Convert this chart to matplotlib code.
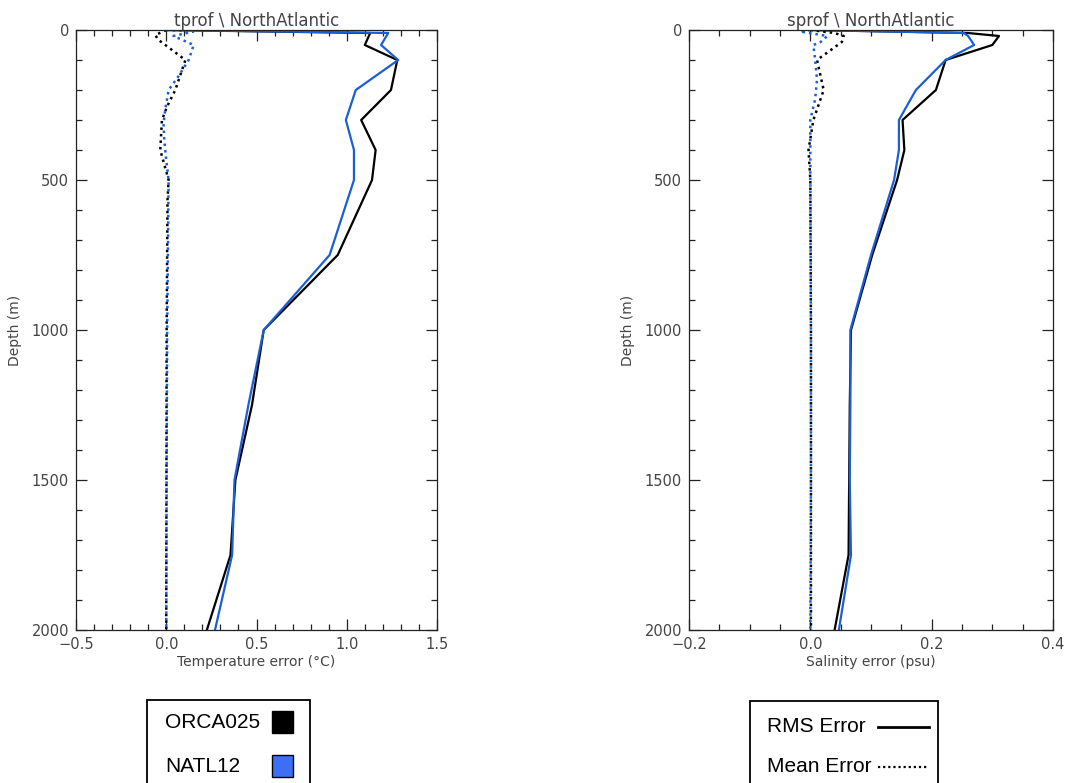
import matplotlib
matplotlib.use("Agg")
import matplotlib.pyplot as plt
from matplotlib.patches import Rectangle
from matplotlib.lines import Line2D
from matplotlib.ticker import MultipleLocator

# ---------------- data ----------------
# Temperature RMS error
t_rms_depth = [0, 10, 50, 100, 200, 300, 400, 500, 750, 1000, 1250, 1500, 1750, 2000]
orca_t_rms = [0.0, 1.13, 1.10, 1.28, 1.245, 1.08, 1.16, 1.14, 0.95, 0.54, 0.475, 0.383, 0.356, 0.225]
natl_t_rms = [0.0, 1.23, 1.19, 1.285, 1.05, 0.995, 1.04, 1.04, 0.905, 0.54, 0.455, 0.378, 0.365, 0.27]

# Temperature mean error
orca_t_mean_depth = [0, 17, 33, 100, 200, 256, 300, 400, 500, 567, 1000, 1500, 2000]
orca_t_mean = [0.0, -0.061, -0.043, 0.106, 0.05, 0.004, -0.024, -0.033, 0.013, 0.007, 0.002, 0.001, 0.0]
natl_t_mean_depth = [0, 5, 20, 50, 100, 153, 200, 267, 311, 367, 433, 500, 1000, 1500, 2000]
natl_t_mean = [0.0, 0.15, 0.04, 0.152, 0.124, 0.069, 0.013, -0.006, -0.015, -0.011, 0.0, 0.013, 0.005, 0.002, 0.0]

# Salinity RMS error
s_rms_depth = [0, 10, 20, 50, 100, 200, 300, 400, 500, 750, 1000, 1250, 1500, 1750, 2000]
orca_s_rms = [0.0, 0.26, 0.311, 0.30, 0.223, 0.207, 0.152, 0.155, 0.143, 0.102, 0.067, 0.065, 0.064, 0.063, 0.040]
natl_s_rms = [0.0, 0.253, 0.26, 0.27, 0.223, 0.174, 0.146, 0.146, 0.138, 0.100, 0.066, 0.066, 0.065, 0.067, 0.047]

# Salinity mean error
orca_s_mean_depth = [0, 10, 20, 40, 100, 200, 300, 400, 500, 1000, 1500, 2000]
orca_s_mean = [0.0, 0.04, 0.055, 0.052, 0.011, 0.022, 0.005, -0.003, 0.0, 0.001, 0.001, 0.001]
natl_s_mean_depth = [0, 5, 20, 40, 50, 100, 165, 230, 300, 500, 1000, 1500, 2000]
natl_s_mean = [0.0, -0.017, 0.028, 0.017, 0.005, 0.008, 0.011, 0.008, 0.0, 0.0, 0.001, 0.001, 0.0]

model_names = ["ORCA025", "NATL12"]
style_names = ["RMS Error", "Mean Error"]

# ---------------- style ----------------
BLACK = "#000000"
BLUE = "#1a5fd6"
BLUE_SQ = "#3d6ff5"
TXT = "#444444"
DOT = (0, (1, 1.6))

fig = plt.figure(figsize=(10.66, 7.83), dpi=100)
ax1 = fig.add_axes([76 / 1066, 153 / 783, 361 / 1066, 600 / 783])
ax2 = fig.add_axes([689 / 1066, 153 / 783, 364 / 1066, 600 / 783])


def style_axis(ax, xlim, xmaj, xmin, title, xlabel):
    ax.set_xlim(*xlim)
    ax.set_ylim(2000, 0)
    ax.xaxis.set_major_locator(MultipleLocator(xmaj))
    ax.xaxis.set_minor_locator(MultipleLocator(xmin))
    ax.yaxis.set_major_locator(MultipleLocator(500))
    ax.yaxis.set_minor_locator(MultipleLocator(100))
    ax.tick_params(which="both", direction="in", top=True, right=True,
                   labelsize=10.5, labelcolor=TXT, width=0.9, color="#222222")
    ax.tick_params(which="major", length=8, pad=5)
    ax.tick_params(which="minor", length=4)
    for s in ax.spines.values():
        s.set_linewidth(0.9)
        s.set_color("#222222")
    ax.set_title(title, fontsize=12, color=TXT, pad=2)
    ax.set_xlabel(xlabel, fontsize=10, color=TXT, labelpad=2)
    ax.set_ylabel("Depth (m)", fontsize=10, color=TXT, labelpad=7)


ax1.plot(orca_t_rms, t_rms_depth, color=BLACK, lw=1.6)
ax1.plot(natl_t_rms, t_rms_depth, color=BLUE, lw=1.6)
ax1.plot(orca_t_mean, orca_t_mean_depth, color=BLACK, lw=1.8, ls=DOT)
ax1.plot(natl_t_mean, natl_t_mean_depth, color=BLUE, lw=1.8, ls=DOT)
style_axis(ax1, (-0.5, 1.5), 0.5, 0.1, "tprof \\ NorthAtlantic",
           "Temperature error (\u00b0C)")

ax2.plot(orca_s_rms, s_rms_depth, color=BLACK, lw=1.6)
ax2.plot(natl_s_rms, s_rms_depth, color=BLUE, lw=1.6)
ax2.plot(orca_s_mean, orca_s_mean_depth, color=BLACK, lw=1.8, ls=DOT)
ax2.plot(natl_s_mean, natl_s_mean_depth, color=BLUE, lw=1.8, ls=DOT)
style_axis(ax2, (-0.2, 0.4), 0.2, 0.05, "sprof \\ NorthAtlantic",
           "Salinity error (psu)")

# ---------------- legend boxes ----------------
W, H = 1066.0, 783.0


def fx(px):
    return px / W


def fy(py):
    return 1 - py / H


LEG_FONT = dict(fontsize=15, family="Liberation Sans", color="black", va="center", ha="left")

# model legend
fig.patches.append(Rectangle((fx(147), fy(790)), (310 - 147) / W, 90 / H,
                             transform=fig.transFigure, fill=False,
                             edgecolor="black", lw=1.3))
sq_colors = [BLACK, BLUE_SQ]
for i, (name, c) in enumerate(zip(model_names, sq_colors)):
    yc = 722 + i * 44
    fig.text(fx(165), fy(yc), name, **LEG_FONT)
    fig.patches.append(Rectangle((fx(272), fy(yc + 11)), 21 / W, 22 / H,
                                 transform=fig.transFigure, facecolor=c,
                                 edgecolor="black", lw=1.0))

# style legend
fig.patches.append(Rectangle((fx(750), fy(790)), (938 - 750) / W, 89 / H,
                             transform=fig.transFigure, fill=False,
                             edgecolor="black", lw=1.3))
line_styles = ["-", (0, (1, 1.3))]
line_widths = [2.0, 1.6]
for i, (name, ls, lw) in enumerate(zip(style_names, line_styles, line_widths)):
    yc = 726 + i * 40
    fig.text(fx(767), fy(yc), name, **LEG_FONT)
    fig.lines.append(Line2D([fx(878), fx(929)], [fy(yc + 1), fy(yc + 1)],
                            transform=fig.transFigure, color="black",
                            lw=lw, ls=ls))

fig.savefig("out.png", dpi=100)
